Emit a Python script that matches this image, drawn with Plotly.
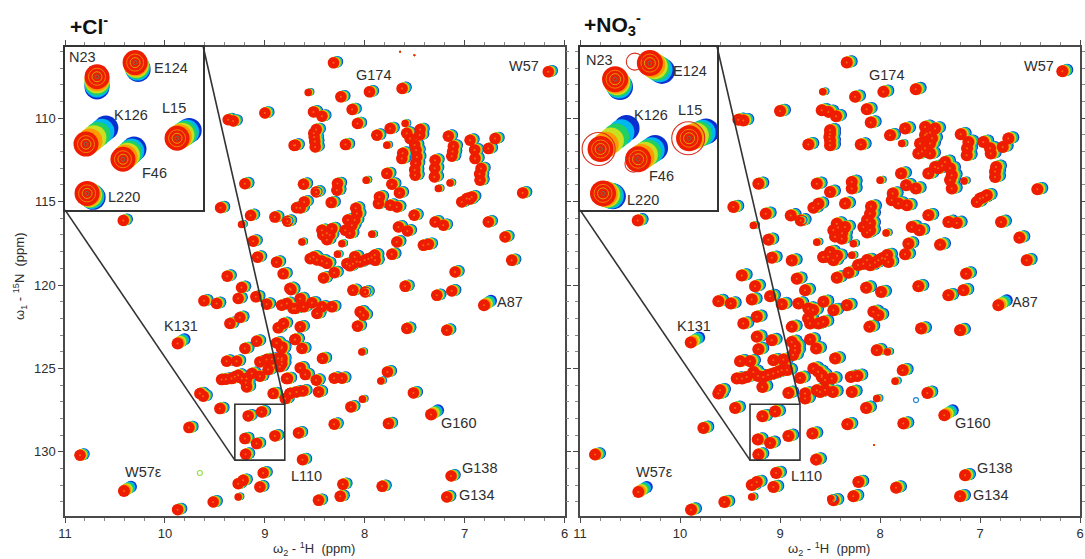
import plotly.graph_objects as go

W, H_PX = 1085, 559

# ---- peak positions: (1H ppm, 15N ppm) ----
cl_regular = [
(8.313,106.68),(8.239,108.72),(7.953,108.42),(7.626,108.22),(6.163,107.22),(8.513,109.62),(8.429,109.88),
(8.126,109.48),(8.073,110.32),(7.879,111.02),(7.746,110.62),(8.486,110.68),(8.506,111.12),(8.496,111.72),
(8.696,111.62),(8.193,111.58),(7.446,110.68),(7.546,111.22),(7.486,111.92),(7.479,112.32),(7.629,112.42),
(7.496,113.42),(7.163,111.08),(7.113,111.68),(7.129,112.28),(6.946,111.32),(6.896,112.42),(6.763,111.82),
(6.696,111.22),(6.846,113.72),(6.836,113.02),(7.296,112.52),(7.303,113.52),(6.979,114.82),(7.029,115.02),
(6.929,114.72),(6.419,114.48),(6.763,116.22),(7.506,115.82),(7.296,116.22),(7.213,116.42),(7.663,116.52),
(7.573,116.76),(7.679,117.42),(7.413,117.62),(7.363,117.56),(7.729,118.16),(6.596,117.12),(6.529,118.52),
(7.096,119.22),(7.596,120.08),(7.129,120.36),(7.279,120.62),(7.779,113.32),(7.729,113.96),(7.653,114.48),
(7.853,114.72),(7.863,115.12),(7.746,115.22),(7.679,115.32),(8.613,113.96),(8.486,114.42),(8.606,115.02),
(8.646,115.38),(8.336,115.06),(8.273,113.92),(8.279,114.32),(8.773,116.18),(8.129,116.42),(8.079,115.72),
(8.196,116.72),(8.429,116.72),(8.329,116.62),(8.379,117.28),(8.513,118.32),(8.429,118.56),(8.546,118.42),
(8.119,118.72),(8.046,118.62),(7.963,118.42),(7.896,118.52),(8.179,118.72),(8.413,119.58),(8.306,119.26),
(8.119,120.32),(7.996,120.42),(8.739,120.28),(8.646,120.82),(8.046,121.61),(8.013,121.81),(8.073,122.47),
(7.579,122.61),(7.179,122.71),(8.423,124.41),(7.773,125.21),(8.306,125.59),(8.229,125.59),(7.513,126.47),
(8.139,127.31),(8.306,128.35),(7.763,128.31),(8.663,128.87),(8.623,130.47),(8.219,131.95),(7.826,132.07),
(7.136,131.45),(7.179,132.71),(8.246,132.67),(8.463,132.91),(8.696,121.41),(8.613,121.31),(8.529,121.07),
(8.429,121.31),(8.329,121.31),(8.479,121.71),(8.646,122.51),(8.696,123.27),(8.629,123.81),(8.646,124.97),
(8.596,125.37),(8.486,125.71),(8.463,126.41),(8.773,125.61),(8.619,126.35),(8.746,126.51),(8.829,124.41),
(8.829,123.71),(8.796,126.81),(8.779,121.11),(8.813,122.31),(10.85,130.21),(9.873,133.47),(9.76,128.55),
(9.517,133.01),(9.61,120.95),(9.483,121.11),(9.35,122.31),(9.25,121.95),(9.233,120.15),(9.267,120.81),
(9.09,120.71),(8.983,121.15),(8.833,121.21),(8.75,120.21),(8.717,121.41),(9.2,123.81),(9.083,123.37),
(8.867,122.57),(8.883,123.47),(8.833,123.81),(8.7,123.27),(9.383,124.57),(9.283,124.57),(9.05,124.61),
(8.983,124.47),(8.867,124.41),(8.833,124.51),(8.967,125.07),(9.433,125.67),(9.333,125.61),(9.267,125.41),
(9.183,125.61),(9.183,126.11),(9.05,125.47),(8.783,125.61),(9.617,126.67),(9.65,126.51),(9.45,127.41),
(8.917,126.51),(8.75,126.51),(8.683,126.41),(9.167,127.85),(9.033,127.61),(9.2,129.21),(9.083,129.51),
(8.9,129.05),(9.193,130.15),(9.017,131.27),(9.267,131.91),(9.217,131.71),(9.05,132.11),(9.367,110.09),
(9.317,110.17),(9.0,109.69),(8.707,111.63),(9.2,113.93),(9.443,115.37),(9.143,115.83),(8.9,115.93),
(8.683,115.37),(10.417,116.13),(9.117,117.37),(9.073,118.33),(8.883,118.63),(9.377,119.47),(8.817,119.33),
]
cl_cluster = [
(8.08,118.6),(8.0,118.5),(7.93,118.35),(8.15,118.85),(8.48,118.5),(8.38,118.7),(8.1,118.3),(7.9,118.2),
(8.17,116.1),(8.1,116.1),(8.15,116.9),(8.42,117.0),(8.35,117.0),(8.38,116.9),(8.09,115.4),
(9.39,125.65),(9.3,125.5),(9.23,125.6),(9.19,125.85),(9.13,125.3),(8.93,124.45),(8.85,124.9),(8.83,124.7),
(7.49,112.7),(7.5,113.1),(7.58,110.9),(7.5,111.6),(7.62,112.1),(7.45,111.0),(7.3,113.0),(6.85,113.35),
(6.95,114.85),(8.5,111.4),(8.51,110.9),(7.12,112.0),(6.9,111.9),
]
cl_small = [
(8.566,108.46),(7.779,111.62),(7.596,110.32),(7.263,114.22),(7.146,113.88),(7.986,113.72),(8.486,114.42),
(7.929,116.96),(8.629,117.42),(8.229,117.52),(8.273,118.16),(7.996,120.42),(8.029,124.01),(7.839,125.75),
(8.023,126.85),(8.777,116.17),(9.233,116.37),(9.267,132.71),
]
cl_wide = [(6.806,121.21),(7.336,127.77),(10.41,132.35),(9.873,123.51)]
cl_specks = [(7.646,106.02),(7.503,106.22)]
cl_ghost = [(9.65,131.27)]

no3_regular = [
(8.333,106.66),(8.25,108.72),(7.967,108.42),(7.643,108.26),(6.177,107.18),(8.517,109.62),(8.44,109.88),
(8.583,109.52),(8.133,109.46),(8.093,110.26),(7.9,111.02),(7.75,110.62),(8.5,110.72),(8.507,111.12),
(8.5,111.62),(8.193,111.58),(7.55,110.52),(7.45,110.62),(7.6,111.52),(7.5,111.52),(7.533,110.92),
(7.617,112.12),(7.5,112.12),(7.517,113.32),(7.45,112.92),(7.35,112.62),(7.283,113.42),(7.283,114.22),
(7.193,110.96),(7.117,111.42),(7.133,112.22),(6.967,111.42),(6.893,112.12),(6.773,111.72),(6.717,111.22),
(6.85,113.52),(6.84,112.92),(7.0,114.82),(6.933,114.62),(7.033,115.02),(6.427,114.26),(6.79,116.22),
(7.517,115.82),(7.317,116.22),(7.233,116.28),(7.683,116.52),(7.607,116.72),(7.717,117.52),(7.75,118.16),
(7.4,117.58),(6.607,117.16),(6.533,118.52),(7.14,119.32),(7.617,120.08),(7.167,120.32),(7.317,120.62),
(7.79,113.32),(7.74,114.02),(7.643,114.22),(7.873,114.52),(7.883,114.92),(7.733,115.22),(7.817,115.12),
(8.5,114.42),(8.283,113.82),(8.283,114.22),(8.35,115.12),(8.1,115.72),(8.167,116.52),(8.1,116.72),
(8.433,116.32),(8.35,116.52),(8.383,117.22),(8.467,116.72),(8.5,118.02),(8.567,118.32),(8.467,118.52),
(8.167,118.72),(8.1,118.82),(8.017,118.52),(7.95,118.42),(7.917,118.62),(8.433,119.56),(8.317,119.26),
(8.14,120.16),(7.99,120.42),(8.067,121.61),(8.017,121.81),(8.107,122.51),(7.59,122.61),(7.2,122.71),
(8.033,123.91),(8.45,124.41),(7.773,125.11),(8.293,125.51),(8.227,125.45),(7.527,126.47),(8.14,127.37),
(8.327,128.35),(7.767,128.31),(7.15,131.41),(7.2,132.67),(8.217,131.81),(7.84,132.15),(8.267,132.67),
(8.467,132.91),(8.467,121.51),(8.333,121.21),(8.567,121.01),(8.567,122.21),(8.483,125.61),(8.473,126.41),
(8.583,125.51),(8.6,126.41),(8.283,126.41),(10.85,130.17),(9.89,133.47),(9.767,128.57),(9.557,133.01),
(9.617,120.97),(9.493,121.11),(9.367,122.31),(9.233,121.91),(9.25,120.07),(9.283,120.87),(9.1,120.67),
(8.983,121.15),(8.817,121.11),(8.717,121.41),(8.75,120.31),(8.883,122.51),(8.7,122.31),(8.617,122.31),
(8.7,123.27),(8.64,123.81),(9.233,123.11),(9.217,123.85),(9.083,123.31),(8.883,123.41),(8.85,123.91),
(9.4,124.57),(9.3,124.57),(9.067,124.51),(8.967,124.47),(9.433,125.61),(9.333,125.51),(9.267,125.21),
(9.167,125.51),(9.067,125.31),(8.983,125.11),(9.177,126.11),(8.8,125.57),(8.917,126.47),(8.75,126.51),
(8.633,126.31),(8.667,125.01),(8.583,125.41),(9.617,126.51),(9.6,126.31),(9.45,127.37),(9.177,127.87),
(9.05,127.59),(9.223,129.27),(9.1,129.47),(8.917,129.05),(9.217,130.17),(8.677,128.91),(8.64,130.47),
(9.04,131.27),(9.283,131.99),(9.233,131.81),(9.067,132.11),(9.367,110.13),(9.417,110.09),(9.0,109.57),
(8.717,111.57),(9.217,113.93),(9.467,115.33),(9.143,115.73),(8.893,115.83),(8.793,116.13),(8.633,113.93),
(8.617,115.13),(8.667,115.37),(10.423,116.13),(9.117,117.29),(9.083,118.37),(8.883,118.53),(9.383,119.43),
(8.567,118.33),(8.833,119.63),
]
no3_cluster = [
(8.05,118.65),(7.98,118.4),(8.13,118.5),(7.93,118.2),(8.22,118.8),(8.52,118.3),(8.43,118.25),
(8.13,116.1),(8.1,116.3),(8.13,116.85),(8.42,116.55),(8.38,116.9),(8.45,117.1),(8.09,115.3),
(9.38,125.6),(9.22,125.45),(9.12,125.4),(9.02,125.2),(8.93,125.1),(8.87,124.2),(8.85,123.65),(8.62,125.2),(8.55,125.7),
(7.55,111.0),(7.58,112.0),(7.48,111.2),(7.55,111.8),(7.5,110.85),(7.42,113.0),(7.3,113.0),(7.38,112.85),
(6.85,113.2),(6.97,114.75),(7.13,111.8),(6.9,111.8),(8.5,111.35),(8.5,110.95),(7.3,113.7),
(8.55,126.3),(8.75,126.8),(8.72,122.0),(8.67,121.5),
]
no3_small = [
(8.573,108.42),(7.783,111.52),(7.16,113.76),(8.0,113.72),(7.94,116.88),(8.267,117.52),(8.283,118.22),
(7.85,125.77),(8.033,126.81),(8.793,116.13),(9.267,116.43),(8.633,117.43),(9.283,132.71),(8.493,132.81),
(7.927,124.01),
]
no3_wide = [(6.817,121.21),(7.357,127.81),(10.417,132.41),(9.893,123.45)]
no3_specks = [(9.53,105.65),(8.06,129.6)]
no3_ghost = [(7.64,126.9)]

# inset peaks: red end (1H, 15N) and blue end of each titration (1H, 15N)
inset_names = ["N23", "E124", "K126", "L15", "F46", "L220"]
cl_inset_red = [(9.184,127.77),(9.046,127.48),(9.224,129.15),(8.894,129.03),(9.09,129.46),(9.22,130.16)]
cl_inset_blue = [(9.184,127.98),(9.035,127.62),(9.152,128.82),(8.850,128.87),(9.05,129.25),(9.198,130.24)]
no3_inset_red = [(9.172,127.82),(9.045,127.49),(9.225,129.25),(8.902,129.03),(9.088,129.46),(9.216,130.16)]
no3_inset_blue = [(9.154,127.98),(9.001,127.65),(9.130,128.82),(8.840,128.89),(9.026,129.23),(9.18,130.22)]
inset_big_rings = [(9.232,129.25),(8.905,129.03)]
inset_small_rings = [(9.10,127.46),(9.105,129.55)]

# titration series colours, from start of titration (blue) to end (red)
titration_colors = ["#0a2fd0", "#00b8f0", "#20d060", "#c8e020", "#ff9a00", "#ee1c00"]
titration_steps = [1.0, 0.8, 0.6, 0.4, 0.2, 0.0]

ZOOM_H = (9.3, 8.8)
ZOOM_N = (130.5, 127.15)
X_RANGE = (11, 6)
Y_RANGE = (133.85, 105.7)
X_TICKS = [11, 10, 9, 8, 7, 6]
Y_TICKS = [110, 115, 120, 125, 130]

AXIS = "#4a4a4a"
TEXT = "#2e2e2e"
FONT = "Liberation Sans"


def px(x):
    return x / W


def py(y):
    return 1 - y / H_PX


fig = go.Figure()


def add_group(peaks, xa, ya, size, dh, dn):
    hs = [p[0] for p in peaks]
    ns = [p[1] for p in peaks]
    for color, t in zip(titration_colors, titration_steps):
        fig.add_trace(go.Scatter(
            x=[h + dh * t for h in hs], y=[n + dn * t for n in ns], mode="markers", xaxis=xa, yaxis=ya,
            marker=dict(color=color, size=size, line=dict(width=0)), showlegend=False, hoverinfo="skip"))


def add_cores(peaks, xa, ya, size):
    fig.add_trace(go.Scatter(
        x=[p[0] for p in peaks], y=[p[1] for p in peaks], mode="markers", xaxis=xa, yaxis=ya,
        marker=dict(color="#f26a10", size=size, line=dict(width=0)), showlegend=False, hoverinfo="skip"))


def add_rings(peaks, xa, ya, size, color, width=1.1):
    fig.add_trace(go.Scatter(x=[p[0] for p in peaks], y=[p[1] for p in peaks], mode="markers", xaxis=xa, yaxis=ya,
                             marker=dict(symbol="circle-open", size=size, color=color, line=dict(color=color, width=width)),
                             showlegend=False, hoverinfo="skip"))


def add_inset(red, blue, xa, ya, size):
    for color, t in zip(titration_colors, titration_steps):
        xs = [r[0] + (b[0] - r[0]) * t for r, b in zip(red, blue)]
        ys = [r[1] + (b[1] - r[1]) * t for r, b in zip(red, blue)]
        fig.add_trace(go.Scatter(x=xs, y=ys, mode="markers", xaxis=xa, yaxis=ya,
                                 marker=dict(color=color, size=size, line=dict(width=0)),
                                 showlegend=False, hoverinfo="skip"))
    add_rings(red, xa, ya, size - 8, "#f08000", 1)
    add_rings(red, xa, ya, size - 15, "#d8a000", 1)
    add_rings(red, xa, ya, 4, "#707050", 1)


# left panel
add_group(cl_regular + cl_cluster, "x", "y", 11.5, -0.04, -0.07)
add_group(cl_small, "x", "y", 7.5, -0.025, -0.04)
add_group(cl_wide, "x", "y", 12, -0.07, -0.26)
add_cores(cl_regular + cl_cluster + cl_wide, "x", "y", 2)
add_group(cl_specks, "x", "y", 2, 0, 0)
add_rings(cl_ghost, "x", "y", 5, "#90e040")
add_inset(cl_inset_red, cl_inset_blue, "x3", "y3", 25)

# right panel
add_group(no3_regular + no3_cluster, "x2", "y2", 12, -0.05, -0.08)
add_group(no3_small, "x2", "y2", 7.5, -0.03, -0.04)
add_group(no3_wide, "x2", "y2", 12, -0.085, -0.30)
add_cores(no3_regular + no3_cluster + no3_wide, "x2", "y2", 2)
add_group(no3_specks, "x2", "y2", 2, 0, 0)
add_rings(no3_ghost, "x2", "y2", 5, "#2080d0")
add_inset(no3_inset_red, no3_inset_blue, "x4", "y4", 26)
add_rings(inset_big_rings, "x4", "y4", 33, "#d83020")
add_rings(inset_small_rings, "x4", "y4", 17, "#d83020")

main_axis = dict(showline=True, linecolor=AXIS, linewidth=1.5, mirror="ticks", ticks="outside", ticklen=5,
                 tickwidth=1, tickcolor=AXIS, showgrid=False, zeroline=False, automargin=False,
                 tickfont=dict(family=FONT, size=13, color=TEXT))
xminor = dict(dtick=0.2, ticks="outside", ticklen=3, tickwidth=1, tickcolor="#888888", showgrid=False)
yminor = dict(dtick=1, ticks="outside", ticklen=3, tickwidth=1, tickcolor="#888888", showgrid=False)
inset_axis = dict(showline=True, linecolor="#333333", linewidth=2, mirror=True, ticks="", showticklabels=False,
                  showgrid=False, zeroline=False, automargin=False)

fig.update_layout(
    width=W, height=H_PX, autosize=False, margin=dict(l=0, r=0, t=0, b=0),
    paper_bgcolor="white", plot_bgcolor="white", showlegend=False,
    xaxis=dict(main_axis, domain=[px(65), px(564.5)], range=list(X_RANGE), tickvals=X_TICKS, anchor="y", minor=xminor),
    yaxis=dict(main_axis, domain=[py(516), py(46.5)], range=list(Y_RANGE), tickvals=Y_TICKS, anchor="x", minor=yminor),
    xaxis2=dict(main_axis, domain=[px(580), px(1080)], range=list(X_RANGE), tickvals=X_TICKS, anchor="y2", minor=xminor),
    yaxis2=dict(main_axis, domain=[py(516), py(46.5)], range=list(Y_RANGE), tickvals=Y_TICKS, anchor="x2", minor=yminor,
                showticklabels=False),
    xaxis3=dict(inset_axis, domain=[px(65), px(203)], range=list(ZOOM_H), anchor="y3"),
    yaxis3=dict(inset_axis, domain=[py(210), py(46.5)], range=list(ZOOM_N), anchor="x3"),
    xaxis4=dict(inset_axis, domain=[px(580), px(717)], range=list(ZOOM_H), anchor="y4"),
    yaxis4=dict(inset_axis, domain=[py(210), py(46.5)], range=list(ZOOM_N), anchor="x4"),
)

# zoom boxes and the lines joining them to the insets
line_style = dict(color="#333333", width=1.6)
for xr, yr, inset_right in [("x", "y", 9.617), ("x2", "y2", 9.63)]:
    fig.add_shape(type="rect", xref=xr, yref=yr, x0=ZOOM_H[0], x1=ZOOM_H[1], y0=ZOOM_N[0], y1=ZOOM_N[1], line=line_style)
    fig.add_shape(type="line", xref=xr, yref=yr, x0=11, y0=115.5, x1=ZOOM_H[0], y1=ZOOM_N[0], line=line_style)
    fig.add_shape(type="line", xref=xr, yref=yr, x0=inset_right, y0=Y_RANGE[1], x1=ZOOM_H[1], y1=ZOOM_N[1], line=line_style)


def label(text, x, y, size=14.5, color=TEXT, **kw):
    fig.add_annotation(text=text, x=px(x), y=py(y), xref="paper", yref="paper", showarrow=False,
                       font=dict(family=FONT, size=size, color=color), xanchor="center", yanchor="middle", **kw)


for t, x, y in [("G174", 373, 75), ("W57", 524, 66), ("A87", 510, 302), ("K131", 181, 326), ("W57ε", 143, 472),
                ("G160", 458, 423), ("L110", 306, 476), ("G138", 479, 468), ("G134", 476, 495),
                ("N23", 82, 57), ("E124", 171, 68), ("K126", 131, 115), ("L15", 174, 108), ("F46", 154, 173), ("L220", 124, 197),
                ("G174", 887, 75), ("W57", 1039, 66), ("A87", 1025, 302), ("K131", 694, 326), ("W57ε", 654, 472),
                ("G160", 972, 423), ("L110", 806, 476), ("G138", 994, 468), ("G134", 990, 495),
                ("N23", 599, 60), ("E124", 690, 71), ("K126", 651, 115), ("L15", 690, 110), ("F46", 661, 176), ("L220", 643, 200)]:
    label(t, x, y)

label("<b>+Cl<sup>-</sup></b>", 89, 25, size=21, color="#111111")
label("<b>+NO<sub>3</sub><sup>-</sup></b>", 612, 25, size=21, color="#111111")
label("ω<sub>2</sub> - <sup>1</sup>H  (ppm)", 314, 549, size=13)
label("ω<sub>2</sub> - <sup>1</sup>H  (ppm)", 829, 549, size=13)
label("ω<sub>1</sub> - <sup>15</sup>N  (ppm)", 20, 277, size=13, textangle=-90)

fig.write_html("out.html", config={"displayModeBar": False}, post_script="document.body.style.margin='0';")
